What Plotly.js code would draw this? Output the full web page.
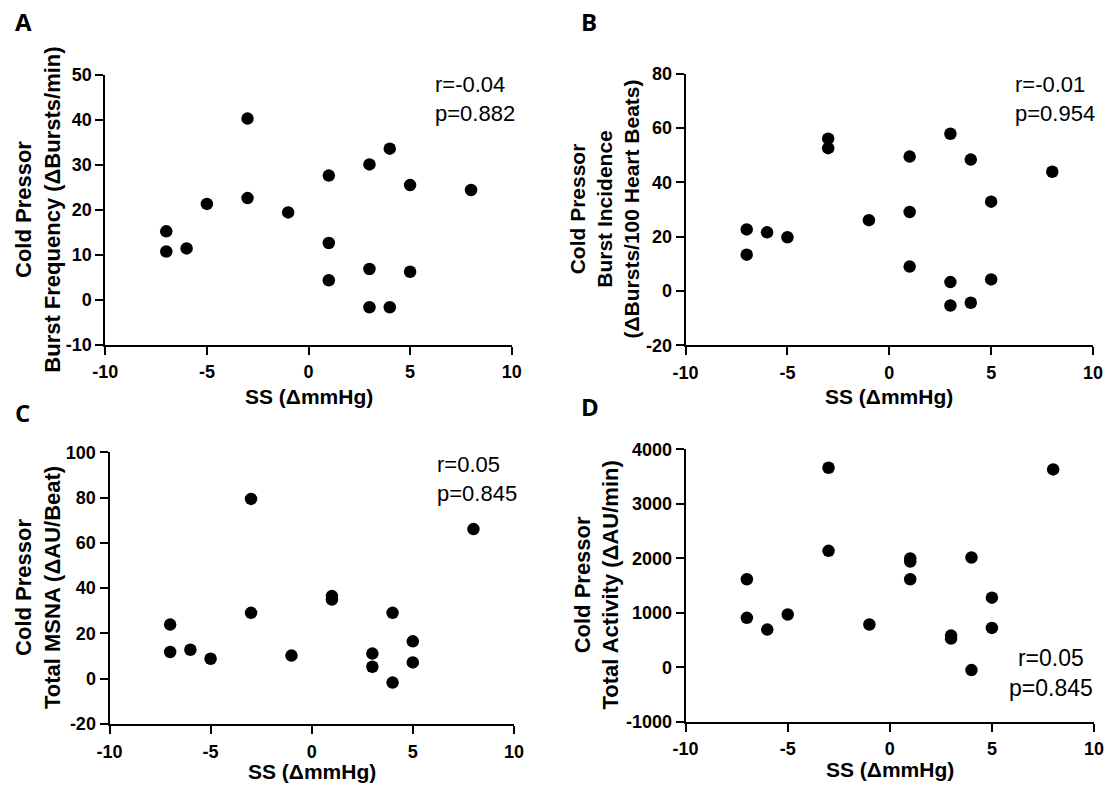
<!DOCTYPE html>
<html>
<head>
<meta charset="utf-8">
<script src="https://cdn.plot.ly/plotly-3.0.1.min.js"></script>
<style>
html,body{margin:0;padding:0;background:#fff;}
#chart{width:1115px;height:791px;}
</style>
</head>
<body>
<div id="chart"></div>
<script>
// ---- data ----
const ssA = [-7,-7,-6,-5,-3,-3,-1,1,1,1,3,3,3,4,4,5,5,8];
const burstFreq = [15.2,10.7,11.4,21.3,40.3,22.6,19.4,27.6,12.6,4.3,30.1,6.8,-1.7,33.6,-1.7,25.5,6.2,24.4];

const ssB = [-7,-7,-6,-5,-3,-3,-1,1,1,1,3,3,3,4,4,5,5,8];
const burstInc = [22.7,13.4,21.6,19.8,56.1,52.6,26.1,49.5,29.1,9.0,57.9,3.3,-5.3,48.4,-4.3,32.9,4.3,43.9];

const ssC = [-7,-7,-6,-5,-3,-3,-1,1,1,3,3,4,4,5,5,8];
const totalMSNA = [23.9,11.8,12.8,8.8,79.4,29.1,10.2,36.5,35.0,11.1,5.3,29.1,-1.7,16.5,7.2,66.1];

const ssD = [-7,-7,-6,-5,-3,-3,-1,1,1,1,3,3,4,4,5,5,8];
const totalActivity = [1614,907,691,968,3662,2137,784,1995,1940,1614,581,525,2014,-53,1276,722,3631];

// tick values (labels are these numbers written with a plain hyphen)
const xTickVals = [-10,-5,0,5,10];
const yTickValsA = [-10,0,10,20,30,40,50];
const yTickValsB = [-20,0,20,40,60,80];
const yTickValsC = [-20,0,20,40,60,80,100];
const yTickValsD = [-1000,0,1000,2000,3000,4000];

const panelLabels = ["A","B","C","D"];
const xTitle = "SS (ΔmmHg)";
const yTitles = [
  "Cold Pressor<br>Burst Frequency (ΔBursts/min)",
  "Cold Pressor<br>Burst Incidence<br>(ΔBursts/100 Heart Beats)",
  "Cold Pressor<br>Total MSNA (ΔAU/Beat)",
  "Cold Pressor<br>Total Activity (ΔAU/min)"
];
const statsR = ["r=-0.04","r=-0.01","r=0.05","r=0.05"];
const statsP = ["p=0.882","p=0.954","p=0.845","p=0.845"];

// ---- layout helpers ----
const W = 1115, H = 791;
const px = x => x / W;
const py = y => 1 - y / H;
const FONT = "Liberation Sans, Arial, sans-serif";

function mkTrace(x, y, n) {
  return {
    x: x, y: y, type: "scatter", mode: "markers",
    xaxis: "x" + (n === 1 ? "" : n), yaxis: "y" + (n === 1 ? "" : n),
    marker: {color: "#000", size: 12.5},
    showlegend: false, hoverinfo: "x+y"
  };
}

const data = [
  mkTrace(ssA, burstFreq, 1),
  mkTrace(ssB, burstInc, 2),
  mkTrace(ssC, totalMSNA, 3),
  mkTrace(ssD, totalActivity, 4)
];

const tickFont = {family: FONT, size: 18, color: "#000", weight: "bold"};
const boldLabel = v => "<b>" + String(v) + "</b>";

function xAx(dom, anchor) {
  return {
    domain: dom, anchor: anchor, range: [-10, 10],
    tickmode: "array", tickvals: xTickVals, ticktext: xTickVals.map(boldLabel),
    showline: true, linecolor: "#000", linewidth: 2, mirror: false,
    ticks: "outside", ticklen: 8, tickwidth: 2, tickcolor: "#000",
    showgrid: false, zeroline: false, ticklabelstandoff: 2,
    tickfont: tickFont
  };
}
function yAx(dom, anchor, vals) {
  return {
    domain: dom, anchor: anchor, range: [vals[0], vals[vals.length - 1]],
    tickmode: "array", tickvals: vals, ticktext: vals.map(boldLabel),
    showline: true, linecolor: "#000", linewidth: 2, mirror: false,
    ticks: "outside", ticklen: 8, tickwidth: 2, tickcolor: "#000",
    showgrid: false, zeroline: false,
    tickfont: tickFont
  };
}

const dom = {
  A: {x: [px(105.3), px(511.7)], y: [py(344.5), py(75)]},
  B: {x: [px(685.6), px(1093)], y: [py(345.4), py(73.7)]},
  C: {x: [px(109.5), px(513.9)], y: [py(724), py(452.3)]},
  D: {x: [px(685.6), px(1094)], y: [py(721.7), py(449.3)]}
};

function ann(text, x, y, opts) {
  return Object.assign({
    text: text, xref: "paper", yref: "paper", x: px(x), y: py(y),
    xanchor: "center", yanchor: "middle", showarrow: false,
    font: {family: FONT, size: 21, color: "#000"}
  }, opts || {});
}
const letterFont = {family: "Open Sans, sans-serif", size: 24, color: "#000"};
const statFont = {family: FONT, size: 22, color: "#000"};

const annotations = [
  // panel letters
  ann("<b>" + panelLabels[0] + "</b>", 23, 21, {font: letterFont}),
  ann("<b>" + panelLabels[1] + "</b>", 589, 21, {font: letterFont}),
  ann("<b>" + panelLabels[2] + "</b>", 22, 412, {font: letterFont}),
  ann("<b>" + panelLabels[3] + "</b>", 590, 406, {font: letterFont}),
  // x titles
  ann("<b>" + xTitle + "</b>", 308.5, 396),
  ann("<b>" + xTitle + "</b>", 889, 396),
  ann("<b>" + xTitle + "</b>", 311.7, 771),
  ann("<b>" + xTitle + "</b>", 889.8, 769),
  // y titles
  ann("<b>" + yTitles[0] + "</b>", 38, 209.7, {textangle: -90, font: {family: FONT, size: 22, color: "#000"}}),
  ann("<b>" + yTitles[1] + "</b>", 604, 209.5, {textangle: -90, font: {family: FONT, size: 21, color: "#000"}}),
  ann("<b>" + yTitles[2] + "</b>", 38, 588, {textangle: -90, font: {family: FONT, size: 22, color: "#000"}}),
  ann("<b>" + yTitles[3] + "</b>", 596, 585.5, {textangle: -90, font: {family: FONT, size: 22, color: "#000"}}),
  // stats
  ann(statsR[0] + "<br>" + statsP[0], 433, 99, {xanchor: "left", align: "left", font: statFont}),
  ann(statsR[1] + "<br>" + statsP[1], 1013, 99, {xanchor: "left", align: "left", font: statFont}),
  ann(statsR[2] + "<br>" + statsP[2], 435, 479, {xanchor: "left", align: "left", font: statFont}),
  ann(statsR[3] + "<br>" + statsP[3], 1051, 673, {align: "center", font: {family: FONT, size: 23, color: "#000"}})
];

const layout = {
  width: W, height: H,
  margin: {l: 0, r: 0, t: 0, b: 0},
  paper_bgcolor: "#fff", plot_bgcolor: "#fff",
  showlegend: false,
  xaxis: xAx(dom.A.x, "y"),  yaxis: yAx(dom.A.y, "x", yTickValsA),
  xaxis2: xAx(dom.B.x, "y2"), yaxis2: yAx(dom.B.y, "x2", yTickValsB),
  xaxis3: xAx(dom.C.x, "y3"), yaxis3: yAx(dom.C.y, "x3", yTickValsC),
  xaxis4: xAx(dom.D.x, "y4"), yaxis4: yAx(dom.D.y, "x4", yTickValsD),
  annotations: annotations
};

Plotly.newPlot("chart", data, layout, {displayModeBar: false, staticPlot: true});
</script>
</body>
</html>
